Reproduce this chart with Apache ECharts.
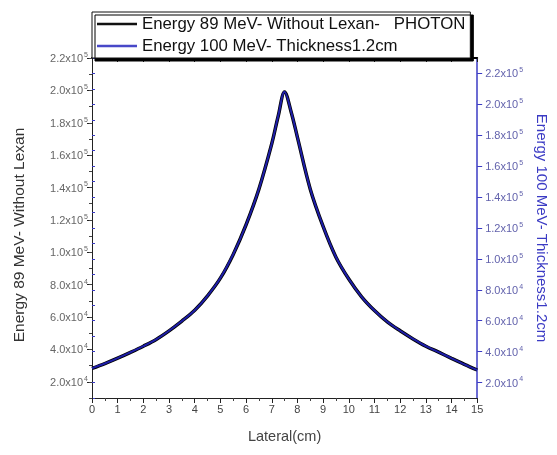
<!DOCTYPE html>
<html>
<head>
<meta charset="utf-8">
<script src="https://cdn.jsdelivr.net/npm/echarts@6/dist/echarts.min.js"></script>
<style>
  html, body { margin: 0; padding: 0; background: #fff; }
  #chart { width: 557px; height: 455px; }
</style>
</head>
<body>
<div id="chart"></div>
<script>
// Lateral dose profile, two beam configurations
const lateral = [0, 0.5, 1, 1.5, 2, 2.5, 3, 3.5, 4, 4.5, 5, 5.5, 6, 6.5, 7, 7.25, 7.5,
                 7.75, 8, 8.5, 9, 9.5, 10, 10.5, 11, 11.5, 12, 12.5, 13, 13.5, 14, 14.5, 15];

// Energy 89 MeV, without Lexan (left axis)
const photon89 = [28300, 31300, 34600, 38200, 42000, 46200, 51500, 57500, 64200, 73100, 84000,
                  98700, 117000, 139000, 167000, 184000, 199000,
                  187000, 171000, 139000, 116000, 97000, 83500, 72500, 64000, 57000, 51500,
                  46500, 42000, 38300, 34500, 30800, 27300];

// Energy 100 MeV, thickness 1.2 cm (right axis)
const thick100 = [29200, 32300, 35800, 39600, 43500, 47900, 53500, 59800, 66800, 76100, 87600,
                  103000, 122100, 145200, 174500, 192400, 208100,
                  195500, 178700, 145200, 121100, 101200, 87000, 75500, 66600, 59300, 53500,
                  48300, 43500, 39700, 35700, 31800, 28100];

const yTicks = [20000, 40000, 60000, 80000, 100000, 120000, 140000, 160000, 180000, 200000, 220000];
const seriesNames = ['Energy 89 MeV- Without Lexan-   PHOTON', 'Energy 100 MeV- Thickness1.2cm'];
const xTitle = 'Lateral(cm)';
const leftTitle = 'Energy 89 MeV- Without Lexan';
const rightTitle = 'Energy 100 MeV- Thickness1.2cm';

const FONT = 'Liberation Sans';

function sciLabel(v) {
  const e = Math.floor(Math.log10(v) + 1e-9);
  const m = (v / Math.pow(10, e)).toFixed(1);
  return '{b|' + m + 'x10}{s|' + e + '}';
}
function richFor(color) {
  return {
    b: { fontSize: 11, color: color, fontFamily: FONT, lineHeight: 13, verticalAlign: 'bottom' },
    s: { fontSize: 7, color: color, fontFamily: FONT, lineHeight: 13, verticalAlign: 'top', padding: [0, 0, 0, 1] }
  };
}

const BLUE = '#3b3bc4';

const chart = echarts.init(document.getElementById('chart'), null, { renderer: 'canvas' });

chart.setOption({
  animation: false,
  backgroundColor: '#fff',
  grid: { left: 92, right: 78, top: 58, bottom: 57, containLabel: false },
  legend: {
    orient: 'vertical',
    left: 92,
    top: 12,
    padding: [2, 5, 2, 5],
    itemGap: 2,
    itemWidth: 40,
    itemHeight: 2.5,
    icon: 'rect',
    backgroundColor: '#fff',
    borderColor: '#111',
    borderWidth: 1,
    borderRadius: 0,
    shadowColor: '#000',
    shadowBlur: 0,
    shadowOffsetX: 3,
    shadowOffsetY: 3,
    textStyle: { fontSize: 16.8, lineHeight: 20, color: '#111', fontFamily: FONT },
    data: [
      { name: seriesNames[0], itemStyle: { color: '#111' } },
      { name: seriesNames[1], itemStyle: { color: '#4848c8' } }
    ]
  },
  xAxis: [
    {
      type: 'value', position: 'bottom', min: 0, max: 15, interval: 1,
      name: xTitle, nameLocation: 'middle', nameGap: 31,
      nameTextStyle: { fontSize: 14.5, color: '#444', fontFamily: FONT },
      axisLine: { show: true, onZero: false, lineStyle: { color: '#222', width: 1 } },
      axisTick: { show: true, inside: false, length: 5, lineStyle: { color: '#222' } },
      minorTick: { show: true, splitNumber: 2, length: 3, lineStyle: { color: '#444' } },
      axisLabel: { fontSize: 11, color: '#444', fontFamily: FONT, margin: 6 },
      splitLine: { show: false }
    },
    {
      type: 'value', position: 'top', min: 0, max: 15, interval: 1,
      axisLine: { show: true, onZero: false, lineStyle: { color: '#000', width: 2 } },
      axisTick: { show: true, inside: true, length: 4, lineStyle: { color: '#222' } },
      axisLabel: { show: false },
      splitLine: { show: false }
    }
  ],
  yAxis: [
    {
      type: 'value', position: 'left', offset: 0, min: 10000, max: 220000, interval: 10000,
      name: leftTitle, nameLocation: 'middle', nameGap: 64, nameRotate: 90,
      nameTextStyle: { fontSize: 15.5, color: '#333', fontFamily: FONT, padding: [0, 14, 0, 0] },
      axisLine: { show: true, onZero: false, lineStyle: { color: '#222', width: 1 } },
      axisTick: { show: true, inside: false, length: 5, customValues: yTicks, lineStyle: { color: '#222' } },
      axisLabel: { customValues: yTicks, margin: 4, formatter: sciLabel, rich: richFor('#666') },
      splitLine: { show: false }
    },
    {
      type: 'value', position: 'right', offset: 0, min: 10000, max: 230000, interval: 10000,
      name: rightTitle, nameLocation: 'middle', nameGap: 56, nameRotate: -90,
      nameTextStyle: { fontSize: 15, color: BLUE, fontFamily: FONT },
      axisLine: { show: true, onZero: false, lineStyle: { color: BLUE, width: 1.5 } },
      axisTick: { show: true, inside: false, length: 5, customValues: yTicks, lineStyle: { color: BLUE } },
      axisLabel: { customValues: yTicks, margin: 8, formatter: sciLabel, rich: richFor('#6262ac') },
      splitLine: { show: false }
    },
    {
      type: 'value', position: 'left', offset: 0, min: 10000, max: 220000, interval: 10000,
      axisLine: { show: false },
      axisTick: { show: true, inside: false, length: 3, lineStyle: { color: '#444' } },
      axisLabel: { show: false },
      splitLine: { show: false }
    },
    {
      type: 'value', position: 'right', offset: 0, min: 10000, max: 230000, interval: 10000,
      axisLine: { show: false },
      axisTick: { show: true, inside: false, length: 3, lineStyle: { color: BLUE } },
      axisLabel: { show: false },
      splitLine: { show: false }
    }
  ],
  series: [
    {
      name: seriesNames[0], type: 'line', xAxisIndex: 0, yAxisIndex: 0,
      smooth: 0.35, symbol: 'none',
      lineStyle: { color: '#000', width: 3.5 },
      itemStyle: { color: '#111' },
      data: lateral.map((x, i) => [x, photon89[i]])
    },
    {
      name: seriesNames[1], type: 'line', xAxisIndex: 0, yAxisIndex: 1,
      smooth: 0.35, symbol: 'none',
      lineStyle: { color: '#1e1ea8', width: 2 },
      itemStyle: { color: '#4848c8' },
      data: lateral.map((x, i) => [x, thick100[i]])
    }
  ]
});
</script>
</body>
</html>
